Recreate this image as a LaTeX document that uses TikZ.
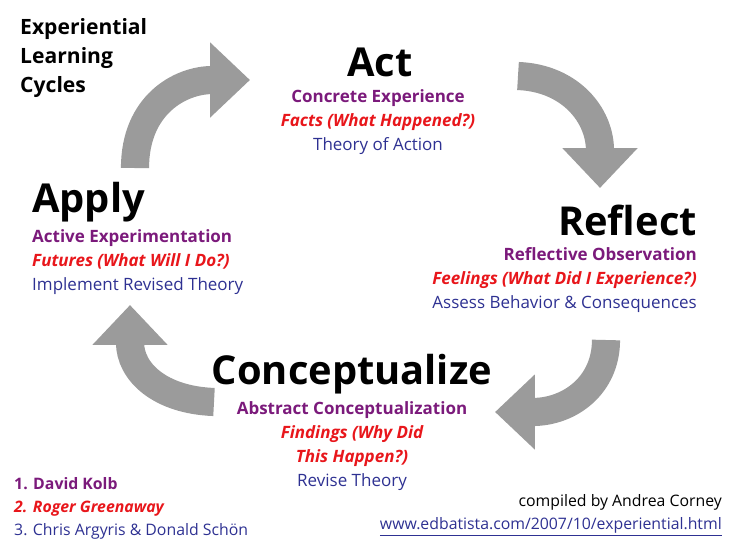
\documentclass[tikz,border=0pt]{standalone}
\usepackage{fontspec}
\setmainfont{Open Sans}
\usetikzlibrary{arrows.meta}
\definecolor{cyclegray}{HTML}{9B9B9B}
\definecolor{modepurple}{HTML}{7B1A7B}
\definecolor{moodred}{HTML}{E8161B}
\definecolor{theoryblue}{HTML}{2E3192}
\tikzset{
  stage/.style={inner sep=0pt, font=\fontsize{34}{36}\selectfont\bfseries},
  detail/.style={inner sep=0pt, font=\fontsize{14.5}{20.5}\selectfont},
  cycle/.style={draw=cyclegray, line width=24pt,
    -{Triangle[width=62pt, length=34pt]}},
}
\newcommand{\modeline}[1]{{\color{modepurple}\bfseries #1}}
\newcommand{\moodline}[1]{{\color{moodred}\bfseries\itshape #1}}
\newcommand{\theoryline}[1]{{\color{theoryblue}#1}}
\begin{document}
\begin{tikzpicture}[x=0.03cm, y=-0.03cm]
	\useasboundingbox (0,0) rectangle (736,552);

	% stages
	\node[stage] (act) at (380,62) {Act};
	\node[detail, anchor=north, align=center] (act text) at (378,89)
	  {\modeline{Concrete Experience}\\ \moodline{Facts (What Happened?)}\\ \theoryline{Theory of Action}};
	\node[stage, anchor=east] (reflect) at (697,220) {Reflect};
	\node[detail, anchor=north east, align=right] (reflect text) at (697,247)
	  {\modeline{Reflective Observation}\\ \moodline{Feelings (What Did I Experience?)}\\ \theoryline{Assess Behavior \& Consequences}};
	\node[stage, anchor=west] (apply) at (32,202) {Apply};
	\node[detail, anchor=north west, align=left] (apply text) at (32,229)
	  {\modeline{Active Experimentation}\\ \moodline{Futures (What Will I Do?)}\\ \theoryline{Implement Revised Theory}};
	\node[stage] (concept) at (352,374) {Conceptualize};
	\node[detail, anchor=north, align=center] (concept text) at (352,401)
	  {\modeline{Abstract Conceptualization}\\ \moodline{Findings (Why Did}\\ \moodline{This Happen?)}\\ \theoryline{Revise Theory}};

	% cycle arrows
	\draw[cycle] (135,168) .. controls (135,105) and (180,80) .. (250,80);
	\draw[cycle] (518,76) .. controls (570,78) and (600,115) .. (600,188);
	\draw[cycle] (606,340) .. controls (606,385) and (570,412) .. (495,412);
	\draw[cycle] (214,402) .. controls (160,400) and (130,372) .. (130,305);

	% captions
	\node[detail, anchor=north west, align=left, font=\fontsize{18}{25}\selectfont\bfseries] (title) at (20,18)
	  {Experiential\\ Learning\\ Cycles};
	\node[detail, anchor=south west, align=left, font=\fontsize{13.5}{20}\selectfont] (sources) at (14,540)
	  {\modeline{1. David Kolb}\\ \moodline{2. Roger Greenaway}\\ \theoryline{3. Chris Argyris \& Donald Schön}};
	\node[detail, anchor=south east, align=right, font=\fontsize{13.5}{20}\selectfont] (credit) at (722,536)
	  {compiled by Andrea Corney\\ \theoryline{\underline{www.edbatista.com/2007/10/experiential.html}}};
\end{tikzpicture}
\end{document}
